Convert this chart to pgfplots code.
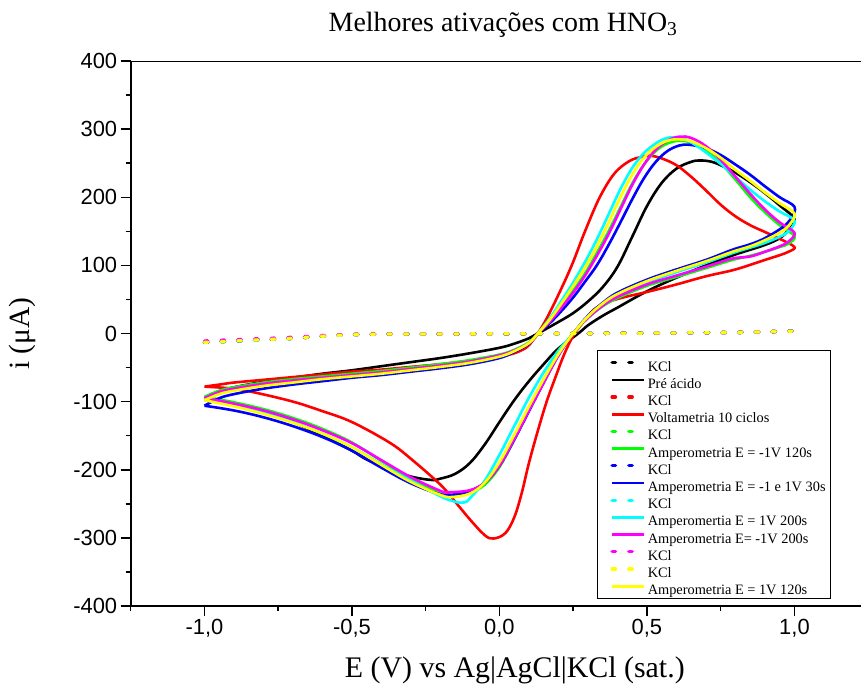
\documentclass[border=0pt]{standalone}
\usepackage{fontspec}
\setmainfont{Liberation Serif}
\setsansfont{Liberation Sans}
\usepackage{pgfplots}
\pgfplotsset{compat=1.18}
\definecolor{cgreen}{RGB}{0,255,0}
\definecolor{cblue}{RGB}{0,0,255}
\definecolor{ccyan}{RGB}{0,255,255}
\definecolor{cmag}{RGB}{255,0,255}
\definecolor{cyel}{RGB}{255,255,0}
\definecolor{cred}{RGB}{255,0,0}
\begin{document}
\begin{tikzpicture}
\begin{axis}[
 x=295bp, y=0.68125bp,
 xmin=-1.25, xmax=1.2254, ymin=-400, ymax=400,
 axis x line*=bottom, axis y line*=left,
 axis line style={line width=2bp},
 tick align=outside,
 major tick length=10bp, minor tick length=5bp,
 every tick/.style={black, line width=1.5bp},
 xtick={-1,-0.5,0,0.5,1}, xticklabels={-1{,}0,-0{,}5,0{,}0,0{,}5,1{,}0},
 minor xtick={-1.25,-0.75,-0.25,0.25,0.75},
 ytick={-400,-300,...,400}, yticklabels={-400,-300,-200,-100,0,100,200,300,400},
 minor ytick={-350,-250,...,350},
 tick label style={font=\sffamily\fontsize{22}{26}\selectfont},
 title={Melhores ativações com HNO\textsubscript{3}},
 title style={font=\fontsize{28}{32}\selectfont, at={(axis description cs:0.51,1.044)}, anchor=base},
 xlabel={E (V) vs Ag|AgCl|KCl (sat.)},
 xlabel style={font=\fontsize{30}{33}\selectfont, at={(axis description cs:0.526,-0.1321)}, anchor=base},
 ylabel={i (μA)},
 ylabel style={font=\fontsize{29.5}{32}\selectfont, at={(axis description cs:-0.14884,0.5)}, anchor=center},
 legend style={at={(axis description cs:0.6385,0.4697)}, anchor=north west, draw=black, line width=1bp, fill=white,
   font=\fontsize{14.4}{17}\selectfont, inner xsep=3bp, inner ysep=3.5bp, row sep=0pt,
   nodes={inner ysep=0pt, text height=17bp, text depth=0.2bp}},
 legend cell align=left,
 legend image code/.code={\path (0bp,0bp); \draw[#1] (10bp,0bp) -- (42bp,0bp);},
 kcl/.style={line width=3.3bp, dash pattern=on 3.4bp off 13.3bp, line cap=round},
 cv/.style={line width=2.6bp, smooth, tension=0.6, line join=round},
]
% KCl black
\addplot[kcl, black] coordinates {(-1,-13) (-0.9,-11) (-0.8,-9) (-0.7,-7) (-0.6,-4) (-0.5,-1.5) (-0.4,-0.8) (0,-0.5) (0.5,0.5) (0.8,1.5) (1.0,3.5)};
\addlegendentry{KCl}
% Pre acido
\addplot[cv, black] coordinates {
(-1,-95) (-0.95,-85) (-0.9,-79) (-0.8,-71) (-0.7,-65) (-0.6,-59) (-0.5,-54) (-0.4,-48) (-0.3,-42) (-0.2,-36) (-0.1,-29) (0,-21) (0.05,-15) (0.1,-7) (0.13,0) (0.2,17) (0.25,30) (0.3,47) (0.35,68) (0.4,98) (0.45,142) (0.5,187) (0.55,221) (0.6,242) (0.65,252) (0.68,254) (0.72,252) (0.76,245) (0.8,236) (0.85,222) (0.9,206) (0.95,188) (1.0,168)
(0.98,152) (0.95,140) (0.9,130) (0.8,116) (0.7,100) (0.6,82) (0.5,62) (0.4,38) (0.35,26) (0.3,12) (0.27,1) (0.2,-22) (0.15,-45) (0.1,-70) (0.05,-98) (0,-130) (-0.05,-163) (-0.1,-190) (-0.15,-206) (-0.2,-213) (-0.23,-215) (-0.3,-210) (-0.373,-199) (-0.45,-185) (-0.5,-172) (-0.6,-150) (-0.7,-130) (-0.8,-114) (-0.9,-103) (-1,-95)};
\addlegendentry{Pré ácido}
% KCl red
\addplot[kcl, cred] coordinates {(-1,-13) (-0.9,-11) (-0.8,-9) (-0.7,-7) (-0.6,-4) (-0.5,-1.5) (-0.4,-0.8) (0,-0.5) (0.5,0.5) (0.8,1.5) (1.0,3.5)};
\addlegendentry{KCl}
% Voltametria
\addplot[cv, cred] coordinates {
(-1,-78) (-0.95,-75) (-0.9,-72) (-0.8,-68) (-0.7,-64) (-0.6,-60) (-0.5,-56) (-0.4,-53) (-0.3,-49) (-0.2,-45) (-0.1,-40) (0,-34) (0.05,-29) (0.09,-21) (0.11,-12) (0.13,0) (0.16,22) (0.2,57) (0.245,100) (0.29,150) (0.34,200) (0.39,235) (0.44,253) (0.48,259) (0.51,261) (0.55,257) (0.6,247) (0.65,230) (0.7,210) (0.75,189) (0.8,172) (0.85,159) (0.9,149) (0.95,139) (1.0,127)
(0.98,120) (0.95,115) (0.9,108) (0.8,94) (0.7,84) (0.6,72) (0.5,61) (0.42,53) (0.36,45) (0.32,35) (0.29,20) (0.27,9) (0.25,-3) (0.22,-30) (0.19,-64) (0.16,-100) (0.13,-143) (0.1,-190) (0.075,-235) (0.05,-270) (0.02,-293) (-0.02,-301) (-0.05,-296) (-0.1,-273) (-0.15,-247) (-0.2,-222) (-0.3,-184) (-0.373,-160) (-0.5,-130) (-0.6,-114) (-0.7,-100) (-0.825,-87) (-0.9,-81) (-1,-78)};
\addlegendentry{Voltametria 10 ciclos}
% KCl green
\addplot[kcl, cgreen] coordinates {(-1,-13) (-0.9,-11) (-0.8,-9) (-0.7,-7) (-0.6,-4) (-0.5,-1.5) (-0.4,-0.8) (0,-0.5) (0.5,0.5) (0.8,1.5) (1.0,3.5)};
\addlegendentry{KCl}
% Amp -1V 120s green
\addplot[cv, cgreen] coordinates {
(-1,-93) (-0.95,-84) (-0.9,-79) (-0.8,-72) (-0.7,-67) (-0.6,-63) (-0.5,-59) (-0.4,-55) (-0.3,-50) (-0.2,-45) (-0.1,-39) (0,-31) (0.05,-24) (0.1,-13) (0.13,0) (0.17,18) (0.21,40) (0.25,63) (0.29,88) (0.33,118) (0.37,150) (0.41,185) (0.45,220) (0.49,248) (0.53,268) (0.57,279) (0.61,283) (0.65,280) (0.7,268) (0.75,250) (0.8,226) (0.85,200) (0.9,178) (0.95,159) (1.0,143)
(0.98,132) (0.95,127) (0.9,120) (0.85,114) (0.79,108) (0.7,96) (0.6,83) (0.5,70) (0.4,52) (0.35,40) (0.3,23) (0.25,0) (0.2,-30) (0.15,-68) (0.1,-110) (0.05,-156) (0,-196) (-0.05,-222) (-0.1,-234) (-0.15,-238) (-0.2,-235) (-0.3,-213) (-0.4,-187) (-0.5,-160) (-0.6,-140) (-0.7,-124) (-0.8,-111) (-0.9,-101) (-1,-93)};
\addlegendentry{Amperometria E = -1V 120s}
% KCl blue
\addplot[kcl, cblue] coordinates {(-1,-13) (-0.9,-11) (-0.8,-9) (-0.7,-7) (-0.6,-4) (-0.5,-1.5) (-0.4,-0.8) (0,-0.5) (0.5,0.5) (0.8,1.5) (1.0,3.5)};
\addlegendentry{KCl}
% Amp -1 e 1V 30s blue
\addplot[cv, cblue] coordinates {
(-1,-106) (-0.95,-95) (-0.9,-89) (-0.8,-81) (-0.7,-75) (-0.6,-70) (-0.5,-65) (-0.4,-61) (-0.3,-56) (-0.2,-51) (-0.1,-45) (0,-36) (0.05,-27) (0.1,-15) (0.13,0) (0.17,15) (0.21,33) (0.25,53) (0.29,76) (0.33,100) (0.37,130) (0.41,163) (0.45,197) (0.49,228) (0.53,252) (0.57,268) (0.61,276) (0.645,277) (0.7,272) (0.75,262) (0.8,248) (0.85,233) (0.9,216) (0.95,200) (1.0,186)
(0.99,170) (0.96,156) (0.9,140) (0.85,131) (0.79,123) (0.7,108) (0.6,94) (0.5,79) (0.4,60) (0.35,45) (0.3,26) (0.25,0) (0.2,-32) (0.15,-72) (0.1,-114) (0.05,-156) (0,-194) (-0.05,-219) (-0.1,-231) (-0.15,-236) (-0.2,-236) (-0.3,-220) (-0.4,-197) (-0.5,-172) (-0.6,-152) (-0.7,-136) (-0.8,-123) (-0.9,-113) (-1,-106)};
\addlegendentry{Amperometria E = -1 e 1V 30s}
% KCl cyan
\addplot[kcl, ccyan] coordinates {(-1,-13) (-0.9,-11) (-0.8,-9) (-0.7,-7) (-0.6,-4) (-0.5,-1.5) (-0.4,-0.8) (0,-0.5) (0.5,0.5) (0.8,1.5) (1.0,3.5)};
\addlegendentry{KCl}
% Amp 1V 200s cyan
\addplot[cv, ccyan] coordinates {
(-1,-97) (-0.95,-88) (-0.9,-83) (-0.8,-76) (-0.7,-71) (-0.6,-66) (-0.5,-62) (-0.4,-58) (-0.3,-53) (-0.2,-48) (-0.1,-42) (0,-33) (0.05,-25) (0.1,-14) (0.13,0) (0.17,22) (0.21,48) (0.25,75) (0.29,105) (0.33,138) (0.37,175) (0.41,212) (0.45,243) (0.49,265) (0.53,279) (0.56,286) (0.59,288) (0.63,285) (0.68,272) (0.75,249) (0.8,230) (0.85,211) (0.9,194) (0.95,179) (1.0,166)
(0.98,150) (0.95,142) (0.9,133) (0.85,126) (0.79,118) (0.7,104) (0.6,90) (0.5,75) (0.4,57) (0.35,43) (0.3,25) (0.25,0) (0.2,-25) (0.15,-57) (0.1,-94) (0.05,-136) (0,-178) (-0.05,-216) (-0.1,-242) (-0.12,-248) (-0.15,-247) (-0.2,-239) (-0.3,-216) (-0.4,-192) (-0.5,-167) (-0.6,-147) (-0.7,-130) (-0.8,-116) (-0.9,-105) (-1,-97)};
\addlegendentry{Amperomertia E = 1V 200s}
% Amp -1V 200s magenta
\addplot[cv, cmag] coordinates {
(-1,-95) (-0.95,-86) (-0.9,-81) (-0.8,-74) (-0.7,-69) (-0.6,-65) (-0.5,-61) (-0.4,-57) (-0.3,-52) (-0.2,-47) (-0.1,-41) (0,-32) (0.05,-25) (0.1,-14) (0.13,0) (0.17,17) (0.21,38) (0.25,60) (0.29,85) (0.33,114) (0.37,146) (0.41,182) (0.45,218) (0.49,248) (0.53,270) (0.57,283) (0.61,289) (0.65,287) (0.7,275) (0.75,255) (0.8,230) (0.85,205) (0.9,182) (0.95,163) (1.0,148)
(0.98,135) (0.95,128) (0.9,120) (0.85,113) (0.79,110) (0.7,98) (0.6,85) (0.5,72) (0.4,54) (0.35,41) (0.3,23) (0.25,0) (0.2,-32) (0.15,-72) (0.1,-113) (0.05,-155) (0,-194) (-0.05,-219) (-0.1,-230) (-0.17,-233) (-0.2,-231) (-0.3,-211) (-0.4,-186) (-0.5,-161) (-0.6,-142) (-0.7,-126) (-0.8,-113) (-0.9,-103) (-1,-95)};
\addlegendentry{Amperometria E= -1V 200s}
% KCl magenta
\addplot[kcl, cmag] coordinates {(-1,-11) (-0.9,-9) (-0.8,-7.5) (-0.7,-5.5) (-0.6,-3) (-0.5,-1) (-0.4,-0.8) (0,-0.5) (0.5,0.5) (0.8,1.5) (1.0,3.5)};
\addlegendentry{KCl}
% KCl yellow
\addplot[kcl, cyel] coordinates {(-1,-13) (-0.9,-11) (-0.8,-9) (-0.7,-7) (-0.6,-4) (-0.5,-1.5) (-0.4,-0.8) (0,-0.5) (0.5,0.5) (0.8,1.5) (1.0,3.5)};
\addlegendentry{KCl}
% Amp 1V 120s yellow
\addplot[cv, cyel] coordinates {
(-1,-98) (-0.95,-89) (-0.9,-84) (-0.8,-77) (-0.7,-72) (-0.6,-67) (-0.5,-63) (-0.4,-59) (-0.3,-54) (-0.2,-49) (-0.1,-43) (0,-34) (0.05,-26) (0.1,-14) (0.13,0) (0.17,20) (0.21,44) (0.25,70) (0.29,97) (0.33,128) (0.37,163) (0.41,200) (0.45,233) (0.49,258) (0.53,274) (0.57,283) (0.61,285) (0.65,282) (0.7,272) (0.75,258) (0.8,240) (0.85,224) (0.9,207) (0.95,191) (1.0,176)
(0.98,158) (0.95,148) (0.9,137) (0.85,128) (0.79,120) (0.7,106) (0.6,92) (0.5,77) (0.4,58) (0.35,44) (0.3,25) (0.25,0) (0.2,-30) (0.15,-67) (0.1,-107) (0.05,-149) (0,-189) (-0.05,-219) (-0.1,-235) (-0.16,-240) (-0.2,-237) (-0.3,-218) (-0.4,-193) (-0.5,-167) (-0.6,-147) (-0.7,-131) (-0.8,-118) (-0.9,-107) (-1,-98)};
\addlegendentry{Amperometria E = 1V 120s}
\draw[line width=2bp] (rel axis cs:0,1) -- (rel axis cs:1,1);
\coordinate (bl) at (rel axis cs:0,0);
\end{axis}
\pgfresetboundingbox
\useasboundingbox ([xshift=-130.7bp,yshift=-86bp]bl) rectangle ++(861bp,692bp);
\end{tikzpicture}
\end{document}
